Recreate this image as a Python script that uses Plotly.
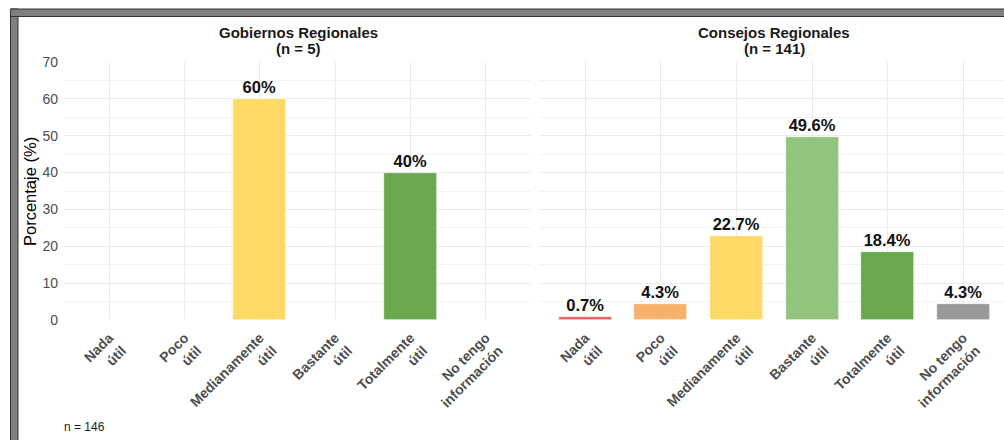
import plotly.graph_objects as go

# Response categories (shared by both panels)
categories = ["Nada<br>útil", "Poco<br>útil", "Medianamente<br>útil",
              "Bastante<br>útil", "Totalmente<br>útil", "No tengo<br>información"]
bar_colors = ["#E8595A", "#F6B26B", "#FFD966", "#93C47D", "#6AA84F", "#999999"]

# Percentages per group
gobiernos_pct = [0, 0, 60, 0, 40, 0]
consejos_pct = [0.7, 4.3, 22.7, 49.6, 18.4, 4.3]

panel_names = ["Gobiernos Regionales", "Consejos Regionales"]
panel_sizes = ["(n = 5)", "(n = 141)"]
y_ticks = [0, 10, 20, 30, 40, 50, 60, 70]
caption = "n = 146"

W, H = 1004, 440
FONT = "Liberation Sans, Arial, Helvetica, sans-serif"


def px_x(p):
    return p / W


def px_y(p):
    return 1 - p / H


def labels(vals):
    return [f"{v:g}%" if v > 0 else "" for v in vals]


fig = go.Figure()
for i, vals in enumerate([gobiernos_pct, consejos_pct]):
    fig.add_trace(go.Bar(
        x=list(range(len(categories))), y=vals,
        marker=dict(color=bar_colors, line=dict(color="white", width=0.6)),
        width=0.7,
        text=labels(vals), textposition="outside", constraintext="none",
        textfont=dict(family=FONT, size=16.5, color="#111111", weight="bold"),
        cliponaxis=False, showlegend=False, hoverinfo="skip",
        xaxis="x" if i == 0 else "x2", yaxis="y" if i == 0 else "y2",
    ))

y_dom = [px_y(320), px_y(62)]
grid = dict(showgrid=True, gridcolor="#EBEBEB", gridwidth=1, zeroline=False,
            showline=False, ticks="")
xcommon = dict(grid, tickmode="array", tickvals=list(range(len(categories))),
               ticktext=categories, tickangle=-45, ticklabelstandoff=6,
               tickfont=dict(family=FONT, size=14, color="#4D4D4D", weight="bold"),
               automargin=False)
ycommon = dict(grid, range=[0, 70], tickvals=y_ticks,
               minor=dict(dtick=5, showgrid=True, gridcolor="#F3F3F3", gridwidth=1),
               automargin=False)

fig.update_layout(
    width=W, height=H,
    margin=dict(l=0, r=0, t=0, b=0),
    paper_bgcolor="white", plot_bgcolor="white",
    font=dict(family=FONT),
    bargap=0,
    xaxis=dict(xcommon, domain=[px_x(64), px_x(531)], range=[-0.6, 5.6], anchor="y"),
    yaxis=dict(ycommon, domain=y_dom, anchor="x", ticklabelstandoff=5,
               tickfont=dict(family=FONT, size=14, color="#4D4D4D")),
    xaxis2=dict(xcommon, domain=[px_x(540), 1.0], range=[-0.6, 5.54], anchor="y2"),
    yaxis2=dict(ycommon, domain=y_dom, anchor="x2", showticklabels=False),
)

# Panel strip titles (name and group size on two lines)
for name, size, cx in zip(panel_names, panel_sizes, [298, 774]):
    for txt, cy in ((name, 33), (size, 48)):
        fig.add_annotation(text=f"<b>{txt}</b>", x=px_x(cx), y=px_y(cy),
                           xref="paper", yref="paper", xanchor="center",
                           yanchor="middle", showarrow=False,
                           font=dict(family=FONT, size=15, color="#1A1A1A"))

# Y axis title
fig.add_annotation(text="Porcentaje (%)", x=px_x(30), y=px_y(192),
                   xref="paper", yref="paper", xanchor="center", yanchor="middle",
                   textangle=-90, showarrow=False,
                   font=dict(family=FONT, size=16.5, color="#000000"))

# Caption
fig.add_annotation(text=caption, x=px_x(62), y=px_y(427),
                   xref="paper", yref="paper", xanchor="left", yanchor="middle",
                   showarrow=False, font=dict(family=FONT, size=12, color="#1A1A1A"))

# Grey frame along the left and top edges
fig.add_shape(type="rect", xref="paper", yref="paper",
              x0=px_x(10.5), x1=px_x(18), y0=-0.01, y1=px_y(9),
              fillcolor="#808080", line=dict(color="#333333", width=1), layer="above")
fig.add_shape(type="rect", xref="paper", yref="paper",
              x0=px_x(10.5), x1=1.01, y0=px_y(16.5), y1=px_y(9),
              fillcolor="#808080", line=dict(color="#333333", width=1), layer="above")

fig.write_html("out.html")
